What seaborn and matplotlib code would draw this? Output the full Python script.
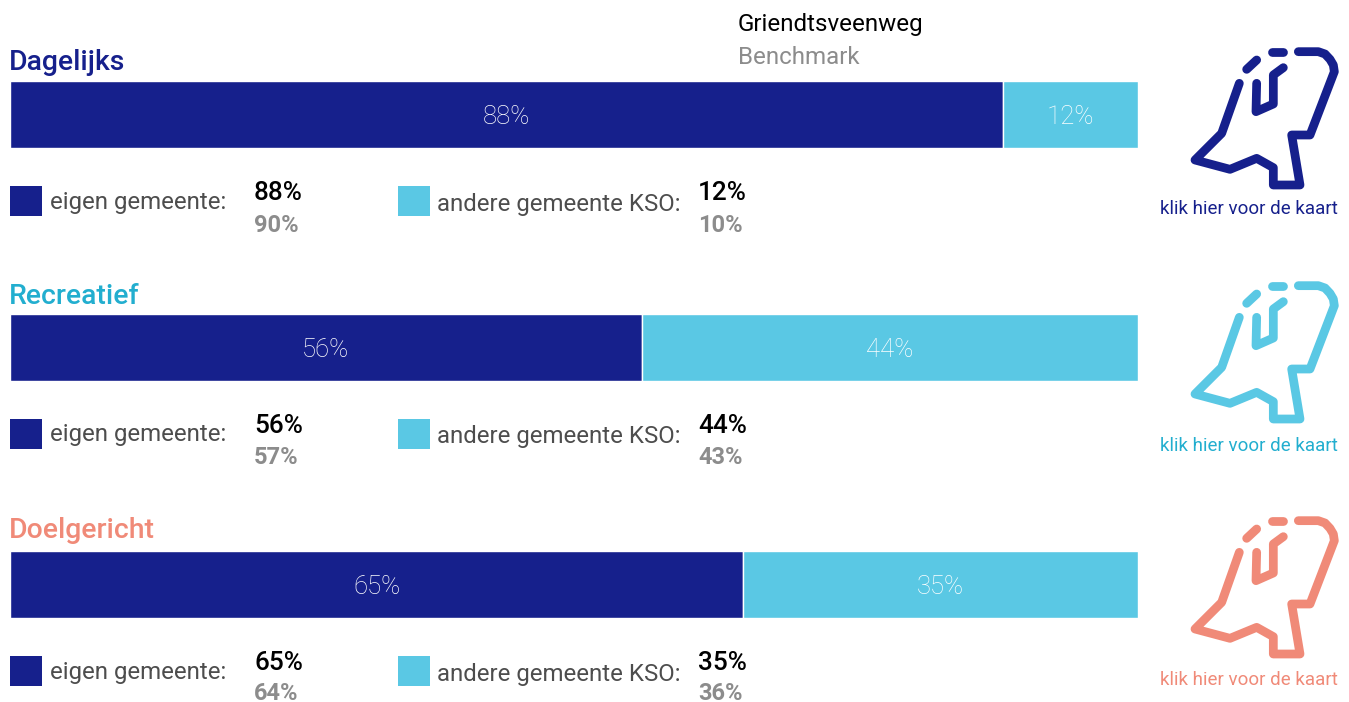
import matplotlib

matplotlib.use("Agg")
import matplotlib.pyplot as plt
import seaborn as sns

sns.set_style("white")
plt.rcParams["font.family"] = ["Roboto", "DejaVu Sans"]

W, H = 1349, 702

NAVY = "#16208c"
SKY = "#5ac8e4"
GREY = "#8c8c8c"
LABEL_GREY = "#4d4d4d"

categories = ["Dagelijks", "Recreatief", "Doelgericht"]
eigen = [88, 56, 65]
andere = [12, 44, 35]
eigen_benchmark = [90, 57, 64]
andere_benchmark = [10, 43, 36]
title_colors = ["#16208c", "#22aecf", "#f08a78"]
icon_colors = ["#16208c", "#5ac8e4", "#f08a78"]
link_colors = ["#16208c", "#22aecf", "#f08a78"]

# pixel layout per panel
bar_tops = [80.5, 313.5, 550.5]
bar_height = 67
title_y = [62, 296, 531]
square_tops = [186, 419, 656]
value_y = [193.5, 426, 663]
bench_y = [225, 458, 693]
link_y = [209, 446, 680]
icon_dy = [0, 234, 469]

# icon strokes, traced from the 3x zoom (origin at 1150,30)
icon_strokes = [
    [(268, 160), (215, 310), (135, 390), (240, 418), (320, 385), (370, 413), (370, 465),
     (450, 465), (425, 315), (480, 315), (553, 125), (550, 105), (540, 88), (525, 72), (505, 65), (445, 65)],
    [(290, 118), (320, 90)],
    [(365, 65), (400, 65)],
    [(320, 160), (318, 245), (370, 222), (370, 135), (400, 113)],
]

fig = plt.figure(figsize=(W / 100, H / 100), dpi=100)
fig.patch.set_facecolor("white")

for i in range(3):
    ax = fig.add_axes([10 / W, 1 - (bar_tops[i] + bar_height) / H, 1128 / W, bar_height / H])
    sns.barplot(x=[eigen[i]], y=[categories[i]], orient="h", color=NAVY, width=1, saturation=1,
                edgecolor="white", linewidth=1, ax=ax)
    sns.barplot(x=[andere[i]], y=[categories[i]], orient="h", color=SKY, width=1, saturation=1,
                left=[eigen[i]], edgecolor="white", linewidth=1, ax=ax)
    ax.set_xlim(0, 100)
    ax.set_ylim(0.5, -0.5)
    ax.axis("off")
    ax.text(eigen[i] / 2, 0.05, f"{eigen[i]}%", color="white", fontsize=18.5, fontweight="light",
            ha="center", va="center")
    ax.text(eigen[i] + andere[i] / 2, 0.05, f"{andere[i]}%", color="white", fontsize=18.5, fontweight="light",
            ha="center", va="center")

# overlay in pixel coordinates for text, legend squares and the icons
over = fig.add_axes([0, 0, 1, 1], zorder=5)
over.set_xlim(0, W)
over.set_ylim(H, 0)
over.axis("off")
over.patch.set_alpha(0)

over.text(738, 25, "Griendtsveenweg", color="black", fontsize=17.4, ha="left", va="center")
over.text(738, 58, "Benchmark", color=GREY, fontsize=17.4, ha="left", va="center")

for i in range(3):
    over.text(9, title_y[i], categories[i], color=title_colors[i], fontsize=20.4, fontweight="medium",
              ha="left", va="center")

    over.add_patch(plt.Rectangle((10, square_tops[i]), 32, 30, color=NAVY, lw=0))
    over.add_patch(plt.Rectangle((398, square_tops[i]), 32, 30, color=SKY, lw=0))
    over.text(50, square_tops[i] + 16, "eigen gemeente:", color=LABEL_GREY, fontsize=17.3, ha="left", va="center")
    over.text(437, square_tops[i] + 18, "andere gemeente KSO:", color=LABEL_GREY, fontsize=17.3, ha="left", va="center")

    over.text(254, value_y[i], f"{eigen[i]}%", color="black", fontsize=18.8, fontweight="medium", ha="left", va="center")
    over.text(254, bench_y[i], f"{eigen_benchmark[i]}%", color=GREY, fontsize=17, fontweight="bold", ha="left", va="center")
    over.text(698, value_y[i], f"{andere[i]}%", color="black", fontsize=18.8, fontweight="medium", ha="left", va="center")
    over.text(698, bench_y[i], f"{andere_benchmark[i]}%", color=GREY, fontsize=17, fontweight="bold", ha="left", va="center")

    over.text(1248.5, link_y[i], "klik hier voor de kaart", color=link_colors[i], fontsize=13.5, ha="center", va="center")

    for stroke in icon_strokes:
        xs = [1150 + p[0] / 3 for p in stroke]
        ys = [30 + p[1] / 3 + icon_dy[i] for p in stroke]
        over.plot(xs, ys, color=icon_colors[i], lw=6.3, solid_capstyle="round", solid_joinstyle="round")

fig.savefig("out.png", dpi=100)
plt.close()
